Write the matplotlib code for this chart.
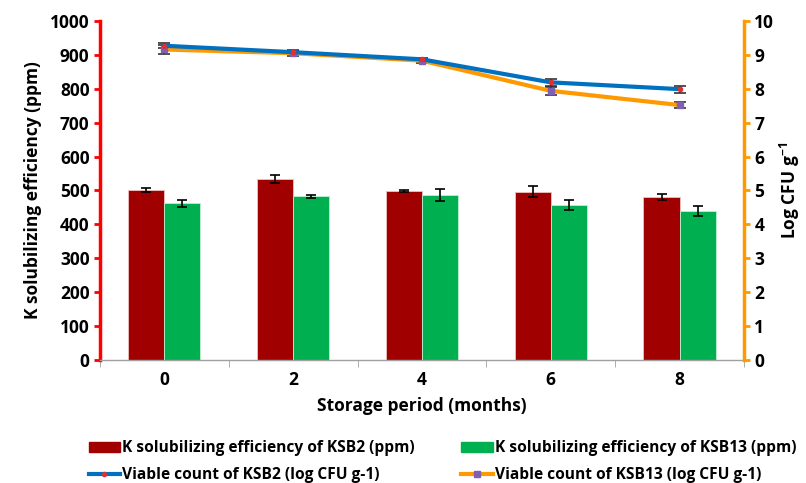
import matplotlib.pyplot as plt
from matplotlib.lines import Line2D
from matplotlib.patches import Patch
import numpy as np

plt.rcParams['font.family'] = ['Open Sans', 'DejaVu Sans']
plt.rcParams['font.weight'] = 'bold'
plt.rcParams['mathtext.fontset'] = 'custom'
plt.rcParams['mathtext.rm'] = 'Open Sans:bold'
plt.rcParams['mathtext.bf'] = 'Open Sans:bold'

months = ['0', '2', '4', '6', '8']
k_ksb2 = [501, 534, 499, 497, 481]
k_ksb2_err = [6, 13, 3, 15, 10]
k_ksb13 = [462, 483, 486, 458, 439]
k_ksb13_err = [11, 4, 18, 15, 15]
vc_ksb2 = [9.27, 9.08, 8.87, 8.19, 7.99]
vc_ksb2_err = [0.08, 0.06, 0.05, 0.1, 0.1]
vc_ksb13 = [9.16, 9.05, 8.83, 7.94, 7.52]
vc_ksb13_err = [0.12, 0.08, 0.06, 0.12, 0.1]

fig = plt.figure(figsize=(8.06, 4.83), dpi=100)
ax = fig.add_axes([0.124, 0.2547, 0.799, 0.7018])
ax2 = ax.twinx()

x = np.arange(len(months))
w = 0.28
ekw = dict(ecolor='black', elinewidth=1.2, capthick=1.2)
ax.bar(x - w / 2, k_ksb2, w, color='#a00000', edgecolor='#f0c0c0', linewidth=0.6,
       yerr=k_ksb2_err, capsize=3.5, error_kw=ekw)
ax.bar(x + w / 2, k_ksb13, w, color='#00b050', edgecolor='#c0f0d0', linewidth=0.6,
       yerr=k_ksb13_err, capsize=3.5, error_kw=ekw)

ax2.errorbar(x, vc_ksb13, yerr=vc_ksb13_err, color='#ff9900', lw=3, marker='s', ms=4,
             mfc='#8060b0', mec='#8060b0', ecolor='#333333', elinewidth=1.2, capsize=4, capthick=1.2)
ax2.errorbar(x, vc_ksb2, yerr=vc_ksb2_err, color='#0070c0', lw=3, marker='o', ms=3,
             mfc='#e03030', mec='#e03030', ecolor='#333333', elinewidth=1.2, capsize=4, capthick=1.2)

ax.set_xlim(-0.5, len(months) - 0.5)
ax.set_ylim(0, 1000)
ax.set_yticks(range(0, 1001, 100))
ax2.set_ylim(0, 10)
ax2.set_yticks(range(0, 11))

ax.set_xticks(x)
ax.set_xticklabels(months)
ax.set_xticks(np.arange(-0.5, len(months), 1), minor=True)
ax.tick_params(axis='x', which='major', length=0, labelsize=12.5, pad=8)
ax.tick_params(axis='x', which='minor', length=5, color='#a0a0a0', direction='out')
ax.tick_params(axis='y', labelsize=12.5, length=4, width=2, color='red')
ax2.tick_params(axis='y', labelsize=12.5, length=4, width=2, color='#ff9900')

for a in (ax, ax2):
    a.spines['top'].set_visible(False)
ax.spines['right'].set_visible(False)
ax2.spines['left'].set_visible(False)
ax2.spines['bottom'].set_visible(False)
ax.spines['left'].set_color('red')
ax.spines['left'].set_linewidth(2.5)
ax2.spines['right'].set_color('#ff9900')
ax2.spines['right'].set_linewidth(2.5)
ax.spines['bottom'].set_color('#a0a0a0')
ax.spines['bottom'].set_linewidth(1)

ax.set_ylabel('K solubilizing efficiency (ppm)', fontsize=12.5, fontweight='bold', labelpad=6)
ax2.set_ylabel('Log CFU g$^{-1}$', fontsize=12.5, fontweight='bold', labelpad=3)
ax.set_xlabel('Storage period (months)', fontsize=12.5, fontweight='bold', labelpad=6)

handles = [
    Patch(color='#a00000'),
    Line2D([], [], color='#0070c0', lw=3, marker='o', ms=3, mfc='#e03030', mec='#e03030'),
    Patch(color='#00b050'),
    Line2D([], [], color='#ff9900', lw=3, marker='s', ms=4, mfc='#8060b0', mec='#8060b0'),
]
labels = ['K solubilizing efficiency of KSB2 (ppm)', 'Viable count of KSB2 (log CFU g-1)',
          'K solubilizing efficiency of KSB13 (ppm)', 'Viable count of KSB13 (log CFU g-1)']
fig.legend(handles, labels, loc='upper left', bbox_to_anchor=(0.11, 0.088), ncol=2,
           frameon=False, fontsize=11.2, handlelength=2.0, columnspacing=3.0,
           handletextpad=0.15, labelspacing=0.7, borderpad=0, borderaxespad=0)

fig.savefig('out.png', dpi=100)
